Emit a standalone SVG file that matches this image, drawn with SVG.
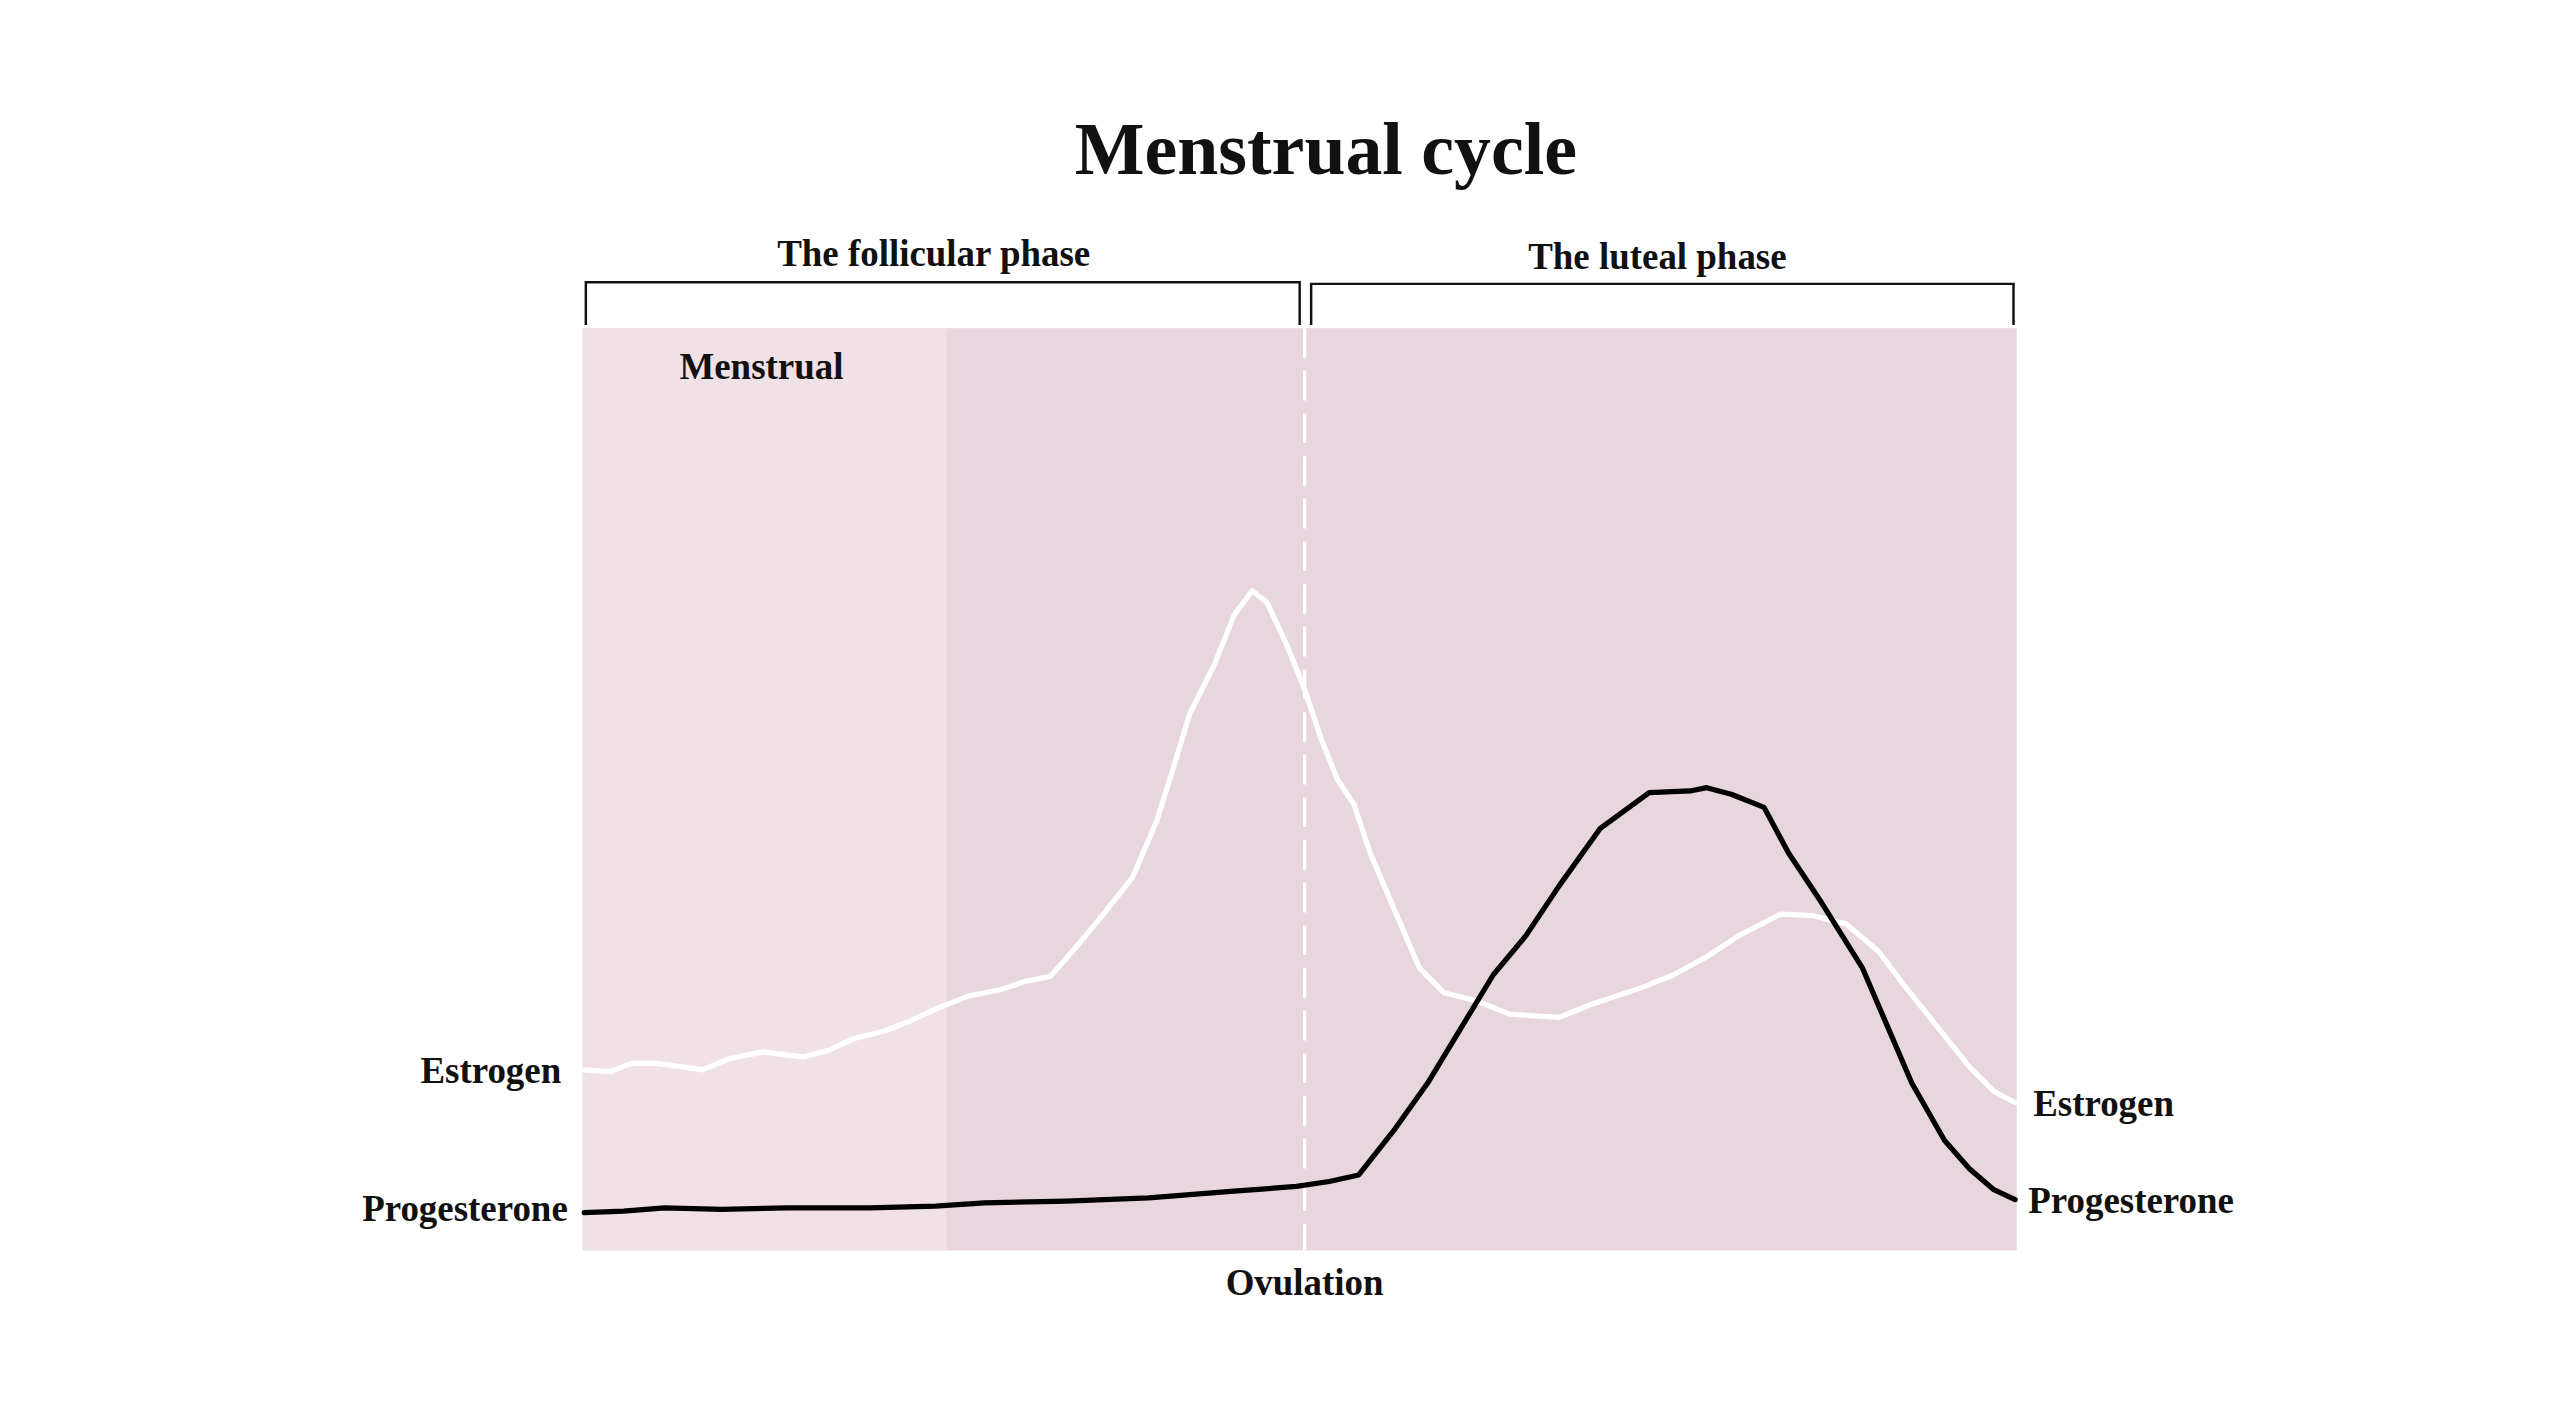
<svg xmlns="http://www.w3.org/2000/svg" width="2560" height="1408" viewBox="0 0 2560 1408">
<style>
text{font-family:"Liberation Serif","DejaVu Serif",serif;font-weight:bold;fill:#111}
.l{font-size:22.5px}
.curve{fill:none;stroke-width:3.2;stroke-linejoin:round;stroke-linecap:round}
.br{fill:none;stroke:#111;stroke-width:1.5}
</style>
<rect width="2560" height="1408" fill="#fff"/>
<g transform="scale(1.641)">
<g id="background">
<rect x="355" y="200" width="874" height="562" fill="#e8d6de"/>
<rect x="355" y="200" width="222" height="562" fill="#efe1e6"/>
</g>
<text x="808" y="106" font-size="45" text-anchor="middle">Menstrual cycle</text>
<g id="follicular">
<path class="br" d="M357,198 V172 H792 V198"/>
<text class="l" x="569" y="162" text-anchor="middle">The follicular phase</text>
</g>
<g id="luteal">
<path class="br" d="M799,198 V173 H1227 V198"/>
<text class="l" x="1010" y="164" text-anchor="middle">The luteal phase</text>
</g>
<g id="menstrual"><text class="l" x="464" y="231" text-anchor="middle">Menstrual</text></g>
<g id="connectors">
<line x1="795" y1="200" x2="795" y2="762" stroke="#fff" stroke-width="2" stroke-dasharray="18,8"/>
<path class="curve" stroke="#fff" d="M356,652 L372,653 385,648 400,648 415,650 428,652 445,645 465,641 480,643 490,644 505,640 520,633 540,628 555,622 570,615 590,607 610,603 625,598 640,595 655,578 670,560 690,535 705,500 715,468 725,435 740,405 752,375 763,360 772,367 785,395 795,420 805,450 815,475 825,490 835,520 850,555 865,590 880,605 900,610 920,618 950,620 970,612 1000,602 1020,594 1040,583 1060,570 1085,557 1105,558 1125,563 1145,580 1160,600 1180,625 1200,650 1215,665 1228,672"/>
<path class="curve" stroke="#000" d="M356,739 L380,738 405,736 440,737 480,736 530,736 570,735 600,733 650,732 700,730 750,726 790,723 810,720 828,716 850,688 870,660 890,627 910,594 930,570 950,540 975,505 1005,483 1030,482 1040,480 1055,484 1075,492 1090,520 1110,550 1135,590 1150,625 1165,660 1185,695 1200,712 1215,725 1228,731"/>
</g>
<g id="estrogen-left"><text class="l" x="342" y="660" text-anchor="end">Estrogen</text></g>
<g id="progesterone-left"><text class="l" x="346" y="744" text-anchor="end">Progesterone</text></g>
<g id="estrogen-right"><text class="l" x="1239" y="680">Estrogen</text></g>
<g id="progesterone-right"><text class="l" x="1236" y="739">Progesterone</text></g>
<g id="ovulation"><text class="l" x="795" y="789" text-anchor="middle">Ovulation</text></g>
</g>
</svg>
